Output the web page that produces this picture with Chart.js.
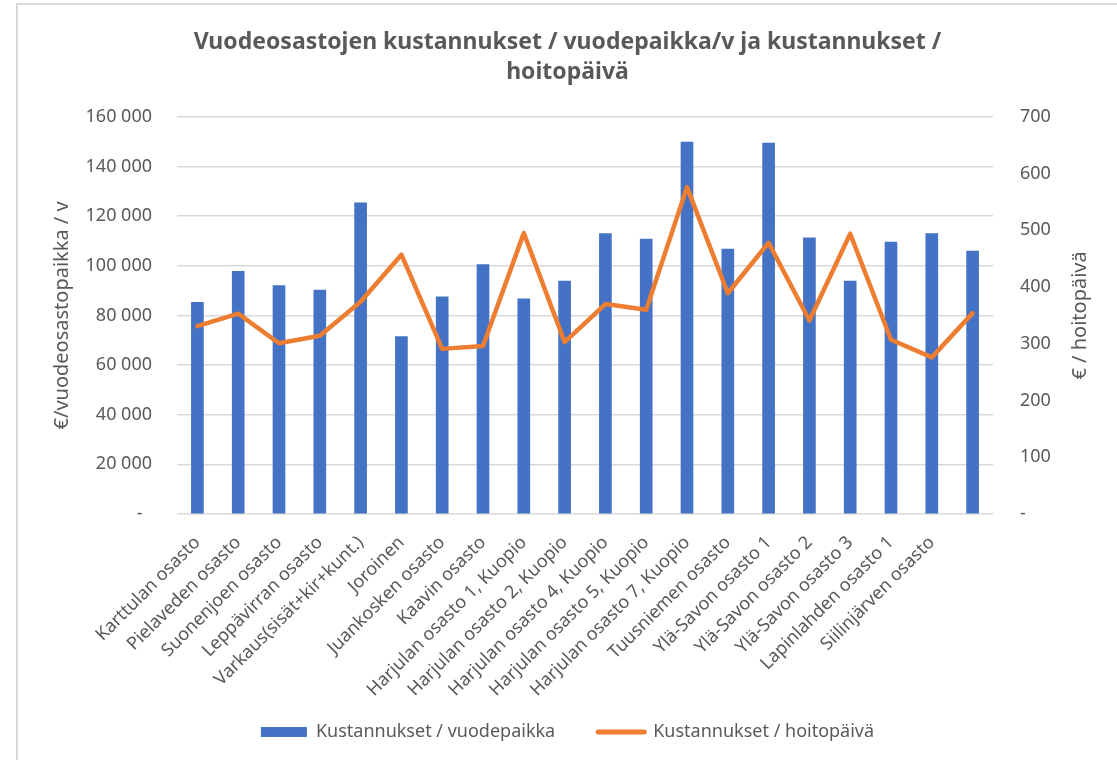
<!DOCTYPE html>
<html lang="fi">
<head>
<meta charset="utf-8">
<title>Vuodeosastojen kustannukset</title>
<script src="https://cdn.jsdelivr.net/npm/chart.js@4/dist/chart.umd.min.js"></script>
<style>
    html, body { margin: 0; padding: 0; background: #fff; overflow: hidden; }
    #frame {
        position: absolute; left: 16px; top: 3px; width: 1101px; height: 757px;
        border-left: 2px solid #d9d9d9; border-top: 2px solid #d9d9d9;
    }
    #wrap { position: absolute; left: 18px; top: 5px; width: 1099px; height: 755px; }
</style>
</head>
<body>
<div id="frame"></div>
<div id="wrap"><canvas id="chart"></canvas></div>
<script>
// kategoriat (viimeisellä pylväällä ei ole nimeä)
const osastot = [
    'Karttulan osasto', 'Pielaveden osasto', 'Suonenjoen osasto', 'Leppävirran osasto',
    'Varkaus(sisät+kir+kunt.)', 'Joroinen', 'Juankosken osasto', 'Kaavin osasto',
    'Harjulan osasto 1, Kuopio', 'Harjulan osasto 2, Kuopio', 'Harjulan osasto 4, Kuopio',
    'Harjulan osasto 5, Kuopio', 'Harjulan osasto 7, Kuopio', 'Tuusniemen osasto',
    'Ylä-Savon osasto 1', 'Ylä-Savon osasto 2', 'Ylä-Savon osasto 3',
    'Lapinlahden osasto 1', 'Siilinjärven osasto', ''
];

// €/vuodepaikka/v
const kustVuodepaikka = [
    85300, 97800, 92000, 90200, 125300, 71500, 87500, 100500, 86700, 93800,
    113000, 110700, 149800, 106700, 149400, 111200, 93800, 109500, 113000, 105900
];

// €/hoitopäivä
const kustHoitopaiva = [
    331, 353, 301, 314, 374, 457, 291, 296, 495, 303,
    370, 360, 576, 389, 478, 341, 494, 307, 276, 354
];

// akselien jaot
const vasenTicks = { min: 0, max: 160000, step: 20000 };
const oikeaTicks = { min: 0, max: 700, step: 100 };

const TEXT = '#595959';
const GRID = '#d9d9d9';
const FONT = '"Noto Sans", "Open Sans", sans-serif';

Chart.defaults.font.family = FONT;
Chart.defaults.color = TEXT;

function tuhannet(v) {
    if (v === 0) return '-  ';
    return String(v).replace(/\B(?=(\d{3})+(?!\d))/g, ' ');
}

// oikean akselin otsikko luetaan alhaalta ylös kuten vasen
const oikeaOtsikko = {
    id: 'oikeaOtsikko',
    beforeDraw(chart) {
        // pitkät vinot nimet saavat ulottua selitteen alueelle asti
        chart.scales.x._computeLabelArea = () => undefined;
    },
    afterDraw(chart) {
        const { ctx, chartArea } = chart;
        const s = chart.scales.y1;
        ctx.save();
        ctx.translate(s.right - 37, (chartArea.top + chartArea.bottom) / 2);
        ctx.rotate(-Math.PI / 2);
        ctx.font = '20px ' + FONT;
        ctx.fillStyle = TEXT;
        ctx.textAlign = 'center';
        ctx.textBaseline = 'middle';
        ctx.fillText('€ / hoitopäivä', 0, 0);
        ctx.restore();
    }
};

new Chart(document.getElementById('chart'), {
    type: 'bar',
    data: {
        labels: osastot,
        datasets: [
            {
                type: 'bar',
                label: 'Kustannukset / vuodepaikka',
                data: kustVuodepaikka,
                backgroundColor: '#4472C4',
                barThickness: 12,
                yAxisID: 'y',
                order: 1
            },
            {
                type: 'line',
                label: 'Kustannukset / hoitopäivä',
                data: kustHoitopaiva,
                borderColor: '#ED7D31',
                backgroundColor: '#ED7D31',
                borderWidth: 4.5,
                borderJoinStyle: 'round',
                borderCapStyle: 'round',
                pointRadius: 0,
                tension: 0,
                yAxisID: 'y1',
                order: 0
            }
        ]
    },
    options: {
        responsive: true,
        maintainAspectRatio: false,
        animation: false,
        layout: { padding: { left: 0, right: 0, top: 0, bottom: 9 } },
        plugins: {
            title: {
                display: true,
                text: ['Vuodeosastojen kustannukset / vuodepaikka/v ja kustannukset /', 'hoitopäivä'],
                color: TEXT,
                font: { size: 23, weight: 'bold', lineHeight: 1.3 },
                padding: { top: 23, bottom: 29 }
            },
            legend: {
                position: 'bottom',
                labels: {
                    color: TEXT,
                    font: { size: 18 },
                    usePointStyle: true,
                    pointStyleWidth: 46,
                    boxHeight: 10,
                    padding: 43,
                    sort: (a, b) => a.datasetIndex - b.datasetIndex,
                    generateLabels(chart) {
                        const items = Chart.defaults.plugins.legend.labels.generateLabels(chart);
                        items.forEach(it => {
                            if (it.datasetIndex === 0) {
                                it.pointStyle = 'rect';
                                it.lineWidth = 0;
                                it.fillStyle = '#4472C4';
                            } else {
                                it.pointStyle = 'line';
                                it.lineWidth = 5;
                                it.strokeStyle = '#ED7D31';
                                it.lineCap = 'round';
                            }
                        });
                        return items;
                    }
                }
            },
            tooltip: { enabled: false }
        },
        scales: {
            x: {
                grid: { display: false },
                border: { display: false },
                ticks: {
                    color: TEXT,
                    font: { size: 18 },
                    autoSkip: false,
                    maxRotation: 45,
                    minRotation: 45,
                    padding: 10
                },
                afterFit: s => { s.height = 166; }
            },
            y: {
                position: 'left',
                min: vasenTicks.min,
                max: vasenTicks.max,
                grid: { color: GRID, lineWidth: 1.5, drawTicks: false },
                border: { display: false },
                ticks: {
                    stepSize: vasenTicks.step,
                    color: TEXT,
                    font: { size: 18 },
                    padding: 25,
                    callback: v => tuhannet(v)
                },
                title: {
                    display: true,
                    text: '€/vuodeosastopaikka / v',
                    color: TEXT,
                    font: { size: 20 },
                    padding: { top: 32, bottom: 0 }
                },
                afterFit: s => { s.width = 159; }
            },
            y1: {
                position: 'right',
                min: oikeaTicks.min,
                max: oikeaTicks.max,
                grid: { drawOnChartArea: false, drawTicks: false },
                border: { display: false },
                ticks: {
                    stepSize: oikeaTicks.step,
                    color: TEXT,
                    font: { size: 18 },
                    padding: 27,
                    callback: v => v === 0 ? '-' : String(v)
                },
                afterFit: s => { s.width = 124; }
            }
        }
    },
    plugins: [oikeaOtsikko]
});
</script>
</body>
</html>
